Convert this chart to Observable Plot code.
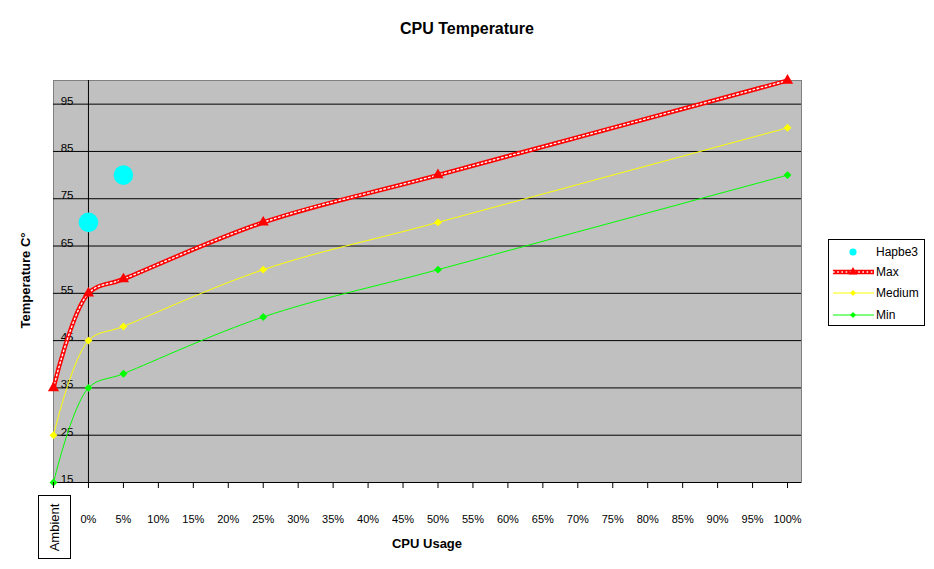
<!DOCTYPE html>
<html>
<head>
<meta charset="utf-8">
<script src="https://cdn.jsdelivr.net/npm/d3@7"></script>
<script src="https://cdn.jsdelivr.net/npm/@observablehq/plot@0.6"></script>
<style>
  html, body { margin: 0; padding: 0; background: #ffffff; }
  body { font-family: "Liberation Sans", Arial, sans-serif; color: #000; }
  #wrap { position: relative; width: 934px; height: 569px; overflow: hidden; }
  #wrap > svg { position: absolute; left: 0; top: 0; }
  .title { position: absolute; left: 0; top: 21px; width: 934px; text-align: center;
           font-weight: bold; font-size: 16px; line-height: 16px; }
  .xlabel { position: absolute; left: 327px; top: 537px; width: 200px; text-align: center;
            font-weight: bold; font-size: 13px; line-height: 13px; }
  .ylabel { position: absolute; left: -75px; top: 274px; width: 200px; text-align: center;
            font-weight: bold; font-size: 13px; line-height: 13px; transform: rotate(-90deg); }
  .legend { position: absolute; left: 828px; top: 239px; width: 97px; height: 87px;
            box-sizing: border-box; border: 1px solid #000; background: #fff; }
  .legend svg { position: absolute; left: 0; top: 0; }
</style>
</head>
<body>
<div id="wrap">
  <div class="title">CPU Temperature</div>
  <div class="ylabel">Temperature C°</div>
  <div class="xlabel">CPU Usage</div>
  <div class="legend" id="legend"></div>
</div>
<script>
// ---- data ----
const xTickValues = [-5, 0, 5, 10, 15, 20, 25, 30, 35, 40, 45, 50, 55, 60, 65, 70, 75, 80, 85, 90, 95, 100];
const xTickLabels = ["Ambient", "0%", "5%", "10%", "15%", "20%", "25%", "30%", "35%", "40%", "45%", "50%",
                     "55%", "60%", "65%", "70%", "75%", "80%", "85%", "90%", "95%", "100%"];
const yTicks = [15, 25, 35, 45, 55, 65, 75, 85, 95];

const usage = [-5, 0, 5, 25, 50, 100];        // -5 stands for "Ambient"
const maxTemp = [35, 55, 58, 70, 80, 100];
const mediumTemp = [25, 45, 48, 60, 70, 90];
const minTemp = [15, 35, 38, 50, 60, 80];

const hapbeUsage = [0, 5];
const hapbeTemp = [70, 80];

const seriesNames = ["Hapbe3", "Max", "Medium", "Min"];
const seriesColors = ["#00FFFF", "#FF0000", "#FFFF00", "#00FF00"];

// ---- tables ----
const toRows = (ys) => usage.map((u, i) => ({u, t: ys[i]}));
const maxRows = toRows(maxTemp);
const medRows = toRows(mediumTemp);
const minRows = toRows(minTemp);
const hapRows = hapbeUsage.map((u, i) => ({u, t: hapbeTemp[i]}));
const tickRows = xTickValues.map((v, i) => ({v, label: xTickLabels[i]}));
const pctRows = tickRows.filter(d => d.v >= 0);
const ambientRows = tickRows.filter(d => d.v < 0);

const font = "Liberation Sans, Arial, sans-serif";

const chart = Plot.plot({
  width: 934,
  height: 569,
  marginLeft: 53,
  marginRight: 133,
  marginTop: 80,
  marginBottom: 87,
  x: {type: "linear", domain: [-5, 102]},
  y: {type: "linear", domain: [15, 100], axis: null},
  style: {fontFamily: font, fontSize: "11px", background: "transparent", overflow: "visible", color: "#000"},
  marks: [
    Plot.frame({fill: "#C0C0C0", stroke: "#808080"}),
    Plot.ruleY(yTicks, {stroke: "#000", strokeWidth: 1}),
    Plot.ruleX([0], {stroke: "#000", strokeWidth: 1}),
    Plot.text(yTicks, {x: () => 0, y: d => d, text: d => String(d), textAnchor: "end",
                       lineAnchor: "bottom", dx: -15, dy: 0.5, fill: "#000", fontSize: 11.5}),
    // lines
    Plot.line(minRows, {x: "u", y: "t", stroke: seriesColors[3], strokeWidth: 1, curve: "catmull-rom"}),
    Plot.line(medRows, {x: "u", y: "t", stroke: seriesColors[2], strokeWidth: 1, curve: "catmull-rom"}),
    Plot.line(maxRows, {x: "u", y: "t", stroke: seriesColors[1], strokeWidth: 4.4, curve: "catmull-rom"}),
    Plot.line(maxRows, {x: "u", y: "t", stroke: "#FFFFFF", strokeWidth: 1.4, strokeDasharray: "1.6 2.6", curve: "catmull-rom"}),
    // markers
    Plot.dot(minRows, {x: "u", y: "t", symbol: "diamond2", r: 2.6, fill: seriesColors[3], stroke: seriesColors[3]}),
    Plot.dot(medRows, {x: "u", y: "t", symbol: "diamond2", r: 2.6, fill: seriesColors[2], stroke: seriesColors[2]}),
    Plot.dot(maxRows, {x: "u", y: "t", symbol: "triangle", r: 3.2, fill: seriesColors[1], stroke: seriesColors[1]}),
    Plot.dot(hapRows, {x: "u", y: "t", r: 9.8, fill: seriesColors[0], stroke: "none"}),
    // x axis ticks and labels
    Plot.axisX({ticks: xTickValues, tickSize: 6, tickFormat: () => "", label: null, stroke: "#000"}),
    Plot.text(pctRows, {x: "v", text: "label", frameAnchor: "bottom", lineAnchor: "bottom", dy: 40,
                        fill: "#000", fontSize: 11}),
    Plot.text(ambientRows, {x: "v", text: "label", frameAnchor: "bottom", lineAnchor: "middle", rotate: -90,
                            dy: 45, dx: 1, fill: "#000", fontSize: 13})
  ]
});

document.getElementById("wrap").insertBefore(chart, document.getElementById("wrap").firstChild);

// frame around the "Ambient" category label, placed from the chart's scales
const ambText = Array.from(chart.querySelectorAll("text")).find(t => t.textContent === xTickLabels[0]);
if (ambText) {
  const xs = chart.scale("x"), ys = chart.scale("y");
  const cx = xs.apply(ambientRows[0].v);
  const bottom = ys.apply(yTicks[0]);
  const rect = document.createElementNS("http://www.w3.org/2000/svg", "rect");
  rect.setAttribute("x", Math.round(cx - 15) + 0.5);
  rect.setAttribute("y", Math.round(bottom + 13) + 0.5);
  rect.setAttribute("width", 32);
  rect.setAttribute("height", 63);
  rect.setAttribute("fill", "#fff");
  rect.setAttribute("stroke", "#000");
  const g = ambText.closest("g");
  g.parentNode.insertBefore(rect, g);
}

// legend
const lsvg = d3.select("#legend").append("svg").attr("width", 97).attr("height", 87);
const rowY = [12, 32, 53, 75];
seriesNames.forEach((name, i) => {
  const g = lsvg.append("g").attr("transform", `translate(0,${rowY[i]})`);
  const c = seriesColors[i];
  if (i === 0) {
    g.append("path").attr("d", d3.symbol(d3.symbolCircle, 40)()).attr("transform", "translate(24,0)").attr("fill", c);
  } else if (i === 1) {
    g.append("line").attr("x1", 4).attr("x2", 45).attr("y1", 0).attr("y2", 0).attr("stroke", c).attr("stroke-width", 4.4);
    g.append("line").attr("x1", 4).attr("x2", 45).attr("y1", 0).attr("y2", 0).attr("stroke", "#fff").attr("stroke-width", 1.4).attr("stroke-dasharray", "1.6 2.6");
    g.append("path").attr("d", d3.symbol(d3.symbolTriangle, 32)()).attr("transform", "translate(24,0)").attr("fill", c);
  } else {
    g.append("line").attr("x1", 4).attr("x2", 45).attr("y1", 0).attr("y2", 0).attr("stroke", c).attr("stroke-width", 1);
    g.append("path").attr("d", d3.symbol(d3.symbolDiamond2, 22)()).attr("transform", "translate(24,0)").attr("fill", c);
  }
  g.append("text").attr("x", 47).attr("y", 0).attr("dy", "0.36em").attr("font-family", font)
    .attr("font-size", 12).attr("fill", "#000").text(name);
});
</script>
</body>
</html>
